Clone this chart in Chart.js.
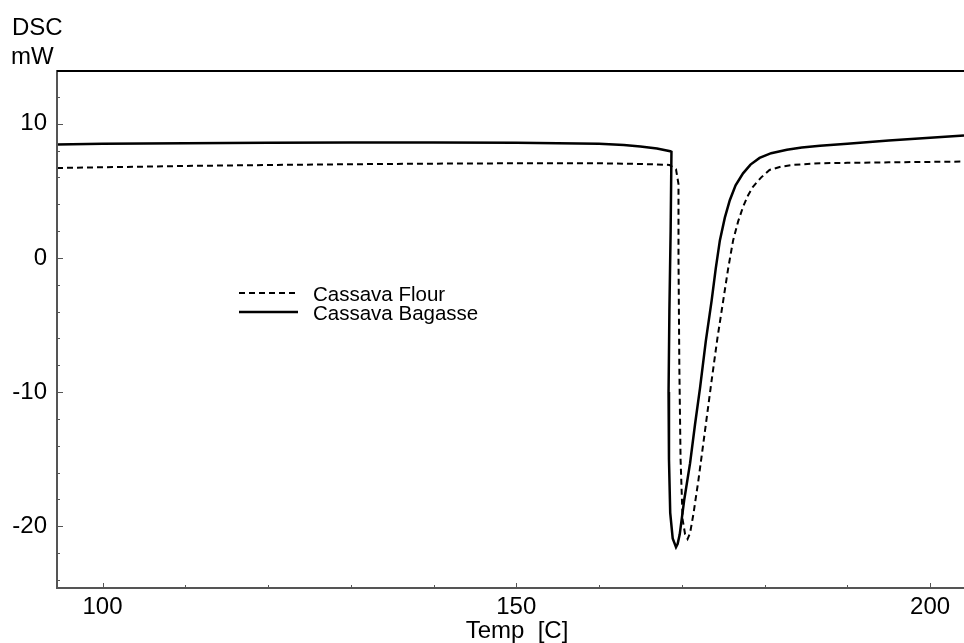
<!DOCTYPE html>
<html>
<head>
<meta charset="utf-8">
<title>DSC thermogram</title>
<script src="https://cdn.jsdelivr.net/npm/chart.js@4.4.1/dist/chart.umd.min.js"></script>
<style>
  html, body { margin: 0; padding: 0; background: #fff; }
  #wrap { width: 964px; height: 643px; }
</style>
</head>
<body>
<div id="wrap"><canvas id="dsc" width="964" height="643"></canvas></div>
<script>
// Cassava Flour (dashed)
const flourTemp = [94.5, 100, 110, 120, 130, 140, 150, 160, 165, 168.5, 169.3, 169.6, 169.6, 169.7, 169.85, 170.1, 170.4,
  170.7, 171.0, 171.4, 172.0, 172.8, 173.6, 174.3, 175.0, 175.6, 176.2, 176.8, 177.4, 178.0, 178.6, 179.6, 180.6,
  182, 183.5, 186.7, 190, 195, 204.1];
const flourDSC = [6.7, 6.75, 6.85, 6.92, 6.98, 7.02, 7.05, 7.05, 7.0, 6.93, 6.6, 5.5, 0, -8, -15, -19.5, -20.6,
  -20.95, -20.5, -19.1, -16.6, -12.9, -9.15, -6, -3.2, -0.8, 1.3, 2.7, 3.8, 4.65, 5.3, 6.0, 6.55,
  6.8, 6.93, 7.05, 7.08, 7.12, 7.18];

// Cassava Bagasse (solid)
const bagasseTemp = [94.5, 100, 110, 120, 130, 140, 150, 155, 160, 163, 165, 167, 168.6, 168.75, 168.65, 168.5, 168.4,
  168.45, 168.6, 168.9, 169.3, 169.5, 169.75, 170.3, 171.0, 171.6, 172.2, 172.9, 173.6, 174.1, 174.6, 175.2, 175.8,
  176.5, 177.4, 178.3, 179.4, 180.8, 182.7, 184.5, 186.7, 190, 195, 200, 204.1];
const bagasseDSC = [8.45, 8.5, 8.55, 8.58, 8.6, 8.6, 8.58, 8.55, 8.5, 8.42, 8.3, 8.15, 7.95, 7.9, 2, -4, -10,
  -15, -19, -20.9, -21.55, -21.3, -20.6, -18, -15.3, -12.4, -9.7, -6.2, -3.2, -0.8, 1.3, 3.0, 4.3,
  5.4, 6.3, 6.95, 7.45, 7.8, 8.06, 8.22, 8.35, 8.5, 8.75, 8.95, 9.12];

const xLabels = [100, 150, 200];
const yLabels = [-20, -10, 0, 10];
const xRange = [94.5, 204.1];
const yRange = [-24.6, 14];

const pairs = (xs, ys) => xs.map((x, i) => ({ x: x, y: ys[i] }));
const FONT = 'Liberation Sans, Arial, sans-serif';

// frame, inward tick marks, axis captions and the in-plot legend
const decor = {
  id: 'decor',
  afterDraw(chart) {
    const ctx = chart.ctx;
    const a = chart.chartArea;
    const xs = chart.scales.x, ys = chart.scales.y;
    ctx.save();

    ctx.strokeStyle = '#555';
    ctx.lineWidth = 2;
    ctx.beginPath();
    ctx.moveTo(a.left, a.top);
    ctx.lineTo(a.left, a.bottom);
    ctx.lineTo(a.right, a.bottom);
    ctx.stroke();

    ctx.lineWidth = 1;
    for (let v = -24; v <= 14; v += 2) {
      const y = Math.round(ys.getPixelForValue(v)) + 0.5;
      const len = v % 10 === 0 ? 6 : 3;
      ctx.beginPath();
      ctx.moveTo(a.left, y);
      ctx.lineTo(a.left + len, y);
      ctx.stroke();
    }
    for (let v = 100; v <= 200; v += 10) {
      const x = Math.round(xs.getPixelForValue(v)) + 0.5;
      const len = v % 50 === 0 ? 5 : 3;
      ctx.beginPath();
      ctx.moveTo(x, a.bottom);
      ctx.lineTo(x, a.bottom - len);
      ctx.stroke();
    }

    ctx.strokeStyle = '#000';
    ctx.lineWidth = 2;
    ctx.beginPath();
    ctx.moveTo(a.left, a.top + 1);
    ctx.lineTo(a.right, a.top + 1);
    ctx.stroke();

    ctx.fillStyle = '#000';
    ctx.font = '24px ' + FONT;
    ctx.textAlign = 'left';
    ctx.textBaseline = 'alphabetic';
    ctx.fillText('DSC', 12, 35);
    ctx.fillText('mW', 11, 64);
    ctx.textAlign = 'center';
    ctx.fillText('Temp  [C]', 517, 638);

    // legend
    ctx.font = '20.5px ' + FONT;
    ctx.textAlign = 'left';
    chart.data.datasets.forEach((ds, i) => {
      const y = a.top + 223 + i * 19;
      ctx.strokeStyle = '#000';
      ctx.lineWidth = ds.borderWidth;
      ctx.setLineDash(ds.borderDash || []);
      ctx.beginPath();
      ctx.moveTo(a.left + 182, y);
      ctx.lineTo(a.left + 241, y);
      ctx.stroke();
      ctx.setLineDash([]);
      ctx.fillText(ds.label, a.left + 256, y + 7.5);
    });

    ctx.restore();
  }
};

new Chart(document.getElementById('dsc'), {
  type: 'line',
  data: {
    datasets: [
      {
        label: 'Cassava Flour',
        data: pairs(flourTemp, flourDSC),
        borderColor: '#000',
        borderWidth: 2,
        borderDash: [6, 4],
        pointRadius: 0,
        tension: 0,
        fill: false
      },
      {
        label: 'Cassava Bagasse',
        data: pairs(bagasseTemp, bagasseDSC),
        borderColor: '#000',
        borderWidth: 2.5,
        pointRadius: 0,
        tension: 0,
        fill: false
      }
    ]
  },
  options: {
    responsive: false,
    animation: false,
    layout: { padding: { top: 70, left: 0, right: 0, bottom: 0 } },
    plugins: { legend: { display: false }, tooltip: { enabled: false } },
    scales: {
      x: {
        type: 'linear',
        min: xRange[0],
        max: xRange[1],
        grid: { display: false },
        border: { display: false },
        afterBuildTicks: s => { s.ticks = xLabels.map(v => ({ value: v })); },
        afterFit: s => { s.height = 55; },
        ticks: { color: '#000', padding: -3, maxRotation: 0, font: { family: FONT, size: 24 } }
      },
      y: {
        type: 'linear',
        min: yRange[0],
        max: yRange[1],
        grid: { display: false },
        border: { display: false },
        afterBuildTicks: s => { s.ticks = yLabels.map(v => ({ value: v })); },
        afterFit: s => { s.width = 57; },
        ticks: { color: '#000', padding: 2, font: { family: FONT, size: 24 } }
      }
    }
  },
  plugins: [decor]
});
</script>
</body>
</html>
